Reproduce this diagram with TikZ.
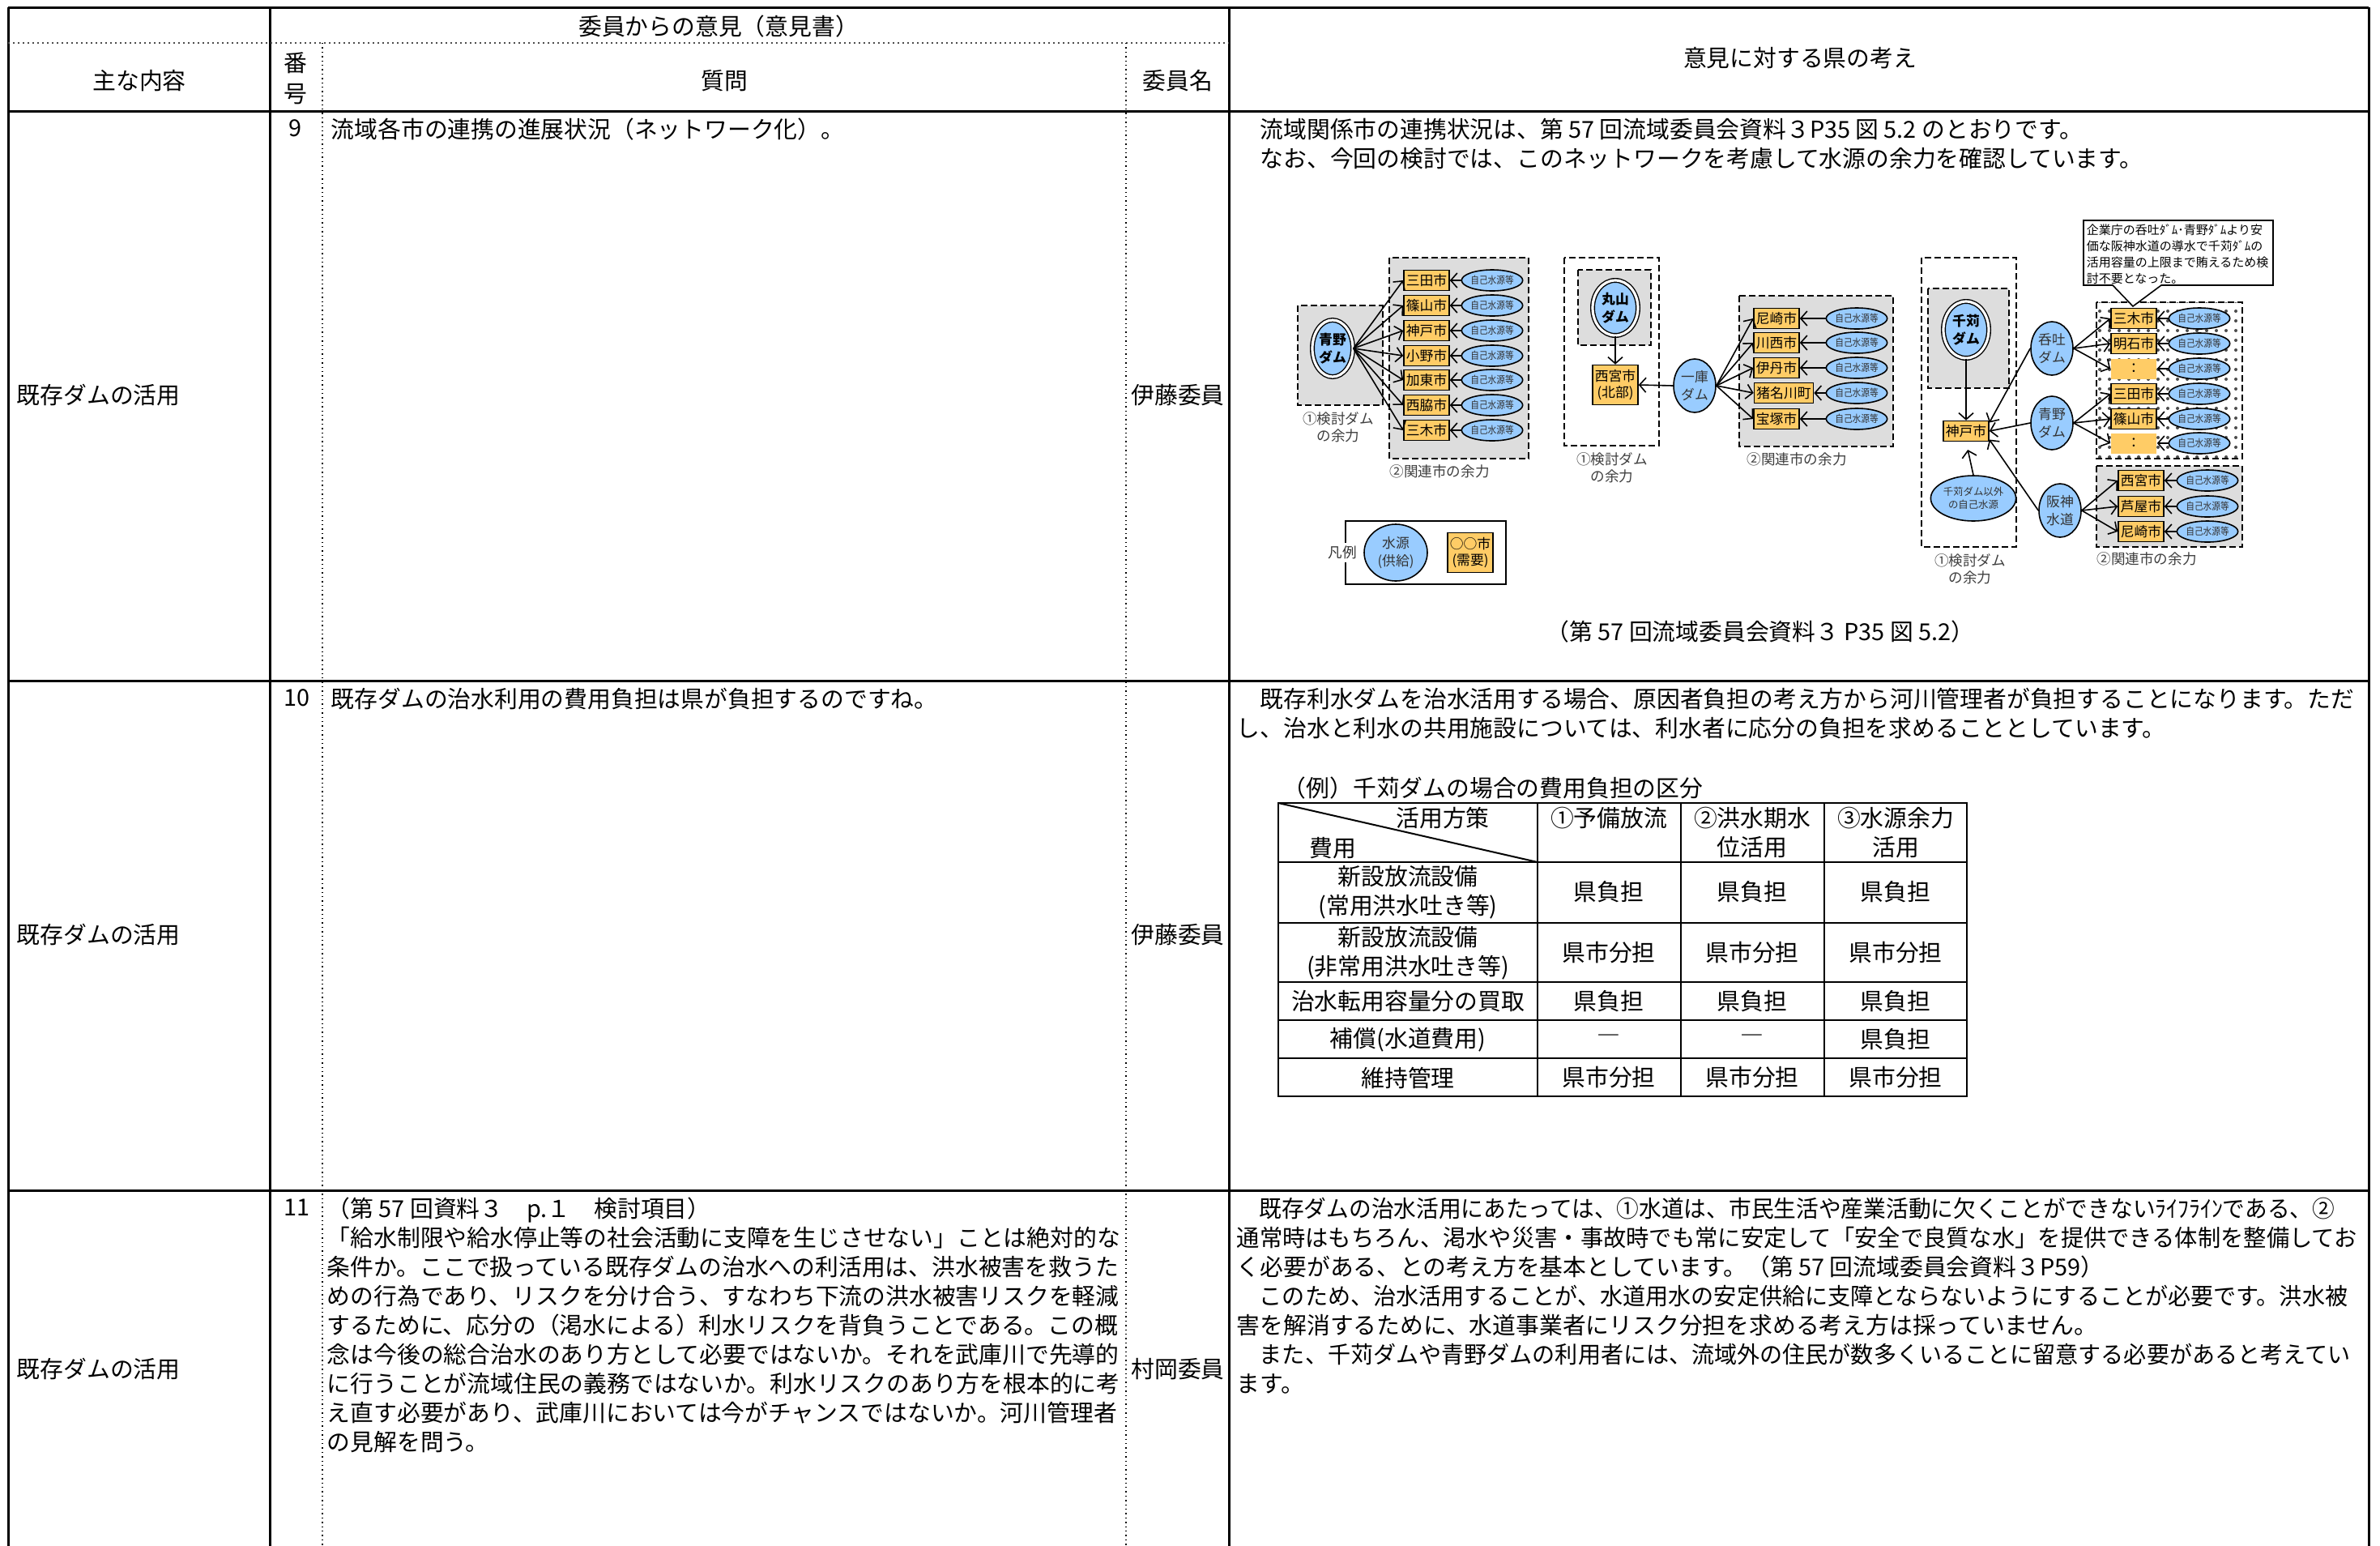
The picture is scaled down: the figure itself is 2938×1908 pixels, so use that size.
\documentclass[tikz,border=0pt]{standalone}
\usepackage{fontspec}
\setmainfont{Noto Sans CJK JP}
\usepackage{xcolor}
\usepackage{tikz}
\usetikzlibrary{shapes.geometric,arrows.meta,patterns}

\definecolor{citycol}{RGB}{255,204,102}
\definecolor{srccol}{RGB}{153,204,255}
\definecolor{boxgray}{RGB}{221,221,221}

\newcommand{\selfsrc}{\scalebox{0.86}[1]{自己水源等}}

\tikzset{
  rule/.style={line width=0.75pt},
  subrule/.style={line width=0.5pt, densely dotted, black!70},
  dotrule/.style={line width=0.35pt, densely dotted},
  tab/.style={line width=0.5pt},
  body/.style={inner sep=0pt, anchor=north west, align=left, font=\fontsize{7.2}{9}\selectfont},
  cell/.style={inner sep=0pt, align=center, font=\fontsize{7.2}{9}\selectfont},
  item/.style={inner sep=0pt, anchor=west, font=\fontsize{7.2}{9}\selectfont},
  city/.style={draw, fill=citycol, line width=0.4pt, minimum width=14pt, minimum height=6.25pt, inner sep=0pt, font=\fontsize{4.2}{5.2}\selectfont},
  blankcity/.style={fill=citycol, minimum width=14pt, minimum height=6.25pt, inner sep=0pt, font=\fontsize{4.2}{5.2}\selectfont},
  src/.style={ellipse, draw, fill=srccol, line width=0.4pt, minimum width=18.5pt, minimum height=6.5pt, inner sep=0pt, text=black!80, font=\fontsize{3.1}{3.5}\selectfont},
  supply/.style={ellipse, draw, fill=srccol, line width=0.4pt, minimum width=13pt, minimum height=16.5pt, inner sep=0pt, align=center, text=black!80, font=\fontsize{4.2}{5.6}\selectfont},
  dam/.style={ellipse, draw, fill=srccol, double, double distance=0.8pt, line width=0.35pt, minimum width=13pt, minimum height=17.5pt, inner sep=0pt, align=center, font=\bfseries\fontsize{4.2}{5.4}\selectfont},
  grp/.style={draw, fill=boxgray, line width=0.35pt, dash pattern=on 2pt off 1pt},
  flow/.style={-{Straight Barb[length=2pt,width=4.5pt]}, line width=0.4pt},
  lbl/.style={inner sep=0pt, align=center, text=black!75, font=\fontsize{4.4}{5.3}\selectfont},
  note/.style={inner sep=0pt, anchor=north west, align=left, font=\fontsize{3.75}{5}\selectfont}
}

\begin{document}
\begin{tikzpicture}[x=0.25pt,y=-0.25pt]
\path[use as bounding box, fill=white] (0,0) rectangle (2938,1908);

% table frame
\draw[rule] (10,9) -- (2924,9);
\draw[rule] (10,137) -- (2924,137);
\draw[rule] (10,840) -- (2924,840);
\draw[rule] (10,1469) -- (2924,1469);
\draw[rule] (10,9) -- (10,1908);
\draw[rule] (333,9) -- (333,1908);
\draw[rule] (1517,9) -- (1517,1908);
\draw[rule] (2924,9) -- (2924,1908);
\draw[subrule] (10,53) -- (1517,53);
\draw[dotrule] (398,53) -- (398,1908);
\draw[dotrule] (1390,53) -- (1390,1908);

% header
\node[cell] (hOpinion) at (887,33) {委員からの意見（意見書）};
\node[cell] (hTopic) at (172,100) {主な内容};
\node[cell] (hNo1) at (365,78) {番};
\node[cell] (hNo2) at (365,116) {号};
\node[cell] (hQuestion) at (894,100) {質問};
\node[cell] (hMember) at (1454,100) {委員名};
\node[cell] (hAnswer) at (2222,72) {意見に対する県の考え};

% row 9
\node[cell] (n9) at (364,158) {9};
\node[body] (q9) at (408,145) {流域各市の連携の進展状況（ネットワーク化）。};
\node[item] (k9) at (20,488) {既存ダムの活用};
\node[cell] (m9) at (1454,488) {伊藤委員};
\node[body] (a9) at (1526,145) {　流域関係市の連携状況は、第 57 回流域委員会資料３P35 図 5.2 のとおりです。\\　なお、今回の検討では、このネットワークを考慮して水源の余力を確認しています。};

% network: aono dam
\path[grp] (1602,377) rectangle (1707,500);
\path[grp] (1715,318) rectangle (1887,566);
\node[dam, minimum width=12.5pt] (aonoA) at (1645,430) {青野\\ダム};
\node[city] (sandaA) at (1761,346) {三田市};
\node[city] (sasayamaA) at (1761,377) {篠山市};
\node[city] (kobeA) at (1761,408) {神戸市};
\node[city] (onoA) at (1761,439) {小野市};
\node[city] (katoA) at (1761,469) {加東市};
\node[city] (nishiwakiA) at (1761,500) {西脇市};
\node[city] (mikiA) at (1761,531) {三木市};
\node[src] (sA1) at (1842,346) {\selfsrc};
\node[src] (sA2) at (1842,377) {\selfsrc};
\node[src] (sA3) at (1842,408) {\selfsrc};
\node[src] (sA4) at (1842,439) {\selfsrc};
\node[src] (sA5) at (1842,469) {\selfsrc};
\node[src] (sA6) at (1842,500) {\selfsrc};
\node[src] (sA7) at (1842,531) {\selfsrc};
\draw[flow] (aonoA.east) -- (sandaA.west);
\draw[flow] (aonoA.east) -- (sasayamaA.west);
\draw[flow] (aonoA.east) -- (kobeA.west);
\draw[flow] (aonoA.east) -- (onoA.west);
\draw[flow] (aonoA.east) -- (katoA.west);
\draw[flow] (aonoA.east) -- (nishiwakiA.west);
\draw[flow] (aonoA.east) -- (mikiA.west);
\draw[flow] (sA1.west) -- (sandaA.east);
\draw[flow] (sA2.west) -- (sasayamaA.east);
\draw[flow] (sA3.west) -- (kobeA.east);
\draw[flow] (sA4.west) -- (onoA.east);
\draw[flow] (sA5.west) -- (katoA.east);
\draw[flow] (sA6.west) -- (nishiwakiA.east);
\draw[flow] (sA7.west) -- (mikiA.east);
\node[lbl] (capA1) at (1652,527) {①検討ダム\\の余力};
\node[lbl] (capA2) at (1777,582) {②関連市の余力};

% network: maruyama / hitokura
\path[grp, fill=white] (1931,318) rectangle (2048,550);
\path[grp] (1948,333) rectangle (2038,426);
\node[dam, minimum width=14pt, minimum height=17pt] (maruyama) at (1994,380) {丸山\\ダム};
\node[city, minimum height=12.25pt, align=center] (nishinomiyaB) at (1994,475) {西宮市\\(北部)};
\node[supply] (hitokura) at (2092,476) {一庫\\ダム};
\path[grp] (2147,365) rectangle (2337,551);
\node[city] (amagasakiB) at (2193,393) {尼崎市};
\node[city] (kawanishi) at (2193,423) {川西市};
\node[city] (itami) at (2193,454) {伊丹市};
\node[city, minimum width=18.25pt] (inagawa) at (2202,485) {猪名川町};
\node[city] (takarazuka) at (2193,517) {宝塚市};
\node[src] (sB1) at (2292,393) {\selfsrc};
\node[src] (sB2) at (2292,423) {\selfsrc};
\node[src] (sB3) at (2292,454) {\selfsrc};
\node[src] (sB4) at (2292,485) {\selfsrc};
\node[src] (sB5) at (2292,517) {\selfsrc};
\draw[flow] (maruyama.south) -- (nishinomiyaB.north);
\draw[flow] (hitokura.west) -- (nishinomiyaB.east);
\draw[flow] (hitokura.east) -- (amagasakiB.west);
\draw[flow] (hitokura.east) -- (kawanishi.west);
\draw[flow] (hitokura.east) -- (itami.west);
\draw[flow] (hitokura.east) -- (inagawa.west);
\draw[flow] (hitokura.east) -- (takarazuka.west);
\draw[flow] (sB1.west) -- (amagasakiB.east);
\draw[flow] (sB2.west) -- (kawanishi.east);
\draw[flow] (sB3.west) -- (itami.east);
\draw[flow] (sB4.west) -- (inagawa.east);
\draw[flow] (sB5.west) -- (takarazuka.east);
\node[lbl] (capB1) at (1990,577) {①検討ダム\\の余力};
\node[lbl] (capB2) at (2218,567) {②関連市の余力};

% network: sengari
\path[grp, fill=white] (2372,318) rectangle (2489,675);
\path[grp] (2380,356) rectangle (2480,479);
\node[dam, minimum width=14pt] (sengari) at (2427,407) {千苅\\ダム};
\node[city] (kobeC) at (2427,532) {神戸市};
\node[supply, minimum width=22pt, minimum height=14pt, font=\fontsize{3.1}{4.1}\selectfont] (otherC) at (2436,615) {千苅ダム以外\\の自己水源};
\node[supply] (donge) at (2533,430) {呑吐\\ダム};
\node[supply] (aonoC) at (2533,522) {青野\\ダム};
\node[supply] (hanshin) at (2543,630) {阪神\\水道};
\path[grp, fill=none, pattern=dots, pattern color=black!70] (2588,373) rectangle (2768,566);
\node[city] (mikiC) at (2634,393) {三木市};
\node[city] (akashi) at (2634,424) {明石市};
\node[blankcity] (blankC1) at (2634,455) {：};
\node[city] (sandaC) at (2634,486) {三田市};
\node[city] (sasayamaC) at (2634,517) {篠山市};
\node[blankcity] (blankC2) at (2634,547) {：};
\node[src] (sC1) at (2715,393) {\selfsrc};
\node[src] (sC2) at (2715,424) {\selfsrc};
\node[src] (sC3) at (2715,455) {\selfsrc};
\node[src] (sC4) at (2715,486) {\selfsrc};
\node[src] (sC5) at (2715,517) {\selfsrc};
\node[src] (sC6) at (2715,547) {\selfsrc};
\path[grp] (2588,575) rectangle (2768,675);
\node[city] (nishinomiyaC) at (2643,593) {西宮市};
\node[city] (ashiya) at (2643,625) {芦屋市};
\node[city] (amagasakiC) at (2643,656) {尼崎市};
\node[src] (sC7) at (2725,593) {\selfsrc};
\node[src] (sC8) at (2725,625) {\selfsrc};
\node[src] (sC9) at (2725,656) {\selfsrc};
\draw[flow] (sengari.south) -- (kobeC.north);
\draw[flow, shorten >=2.5pt] (otherC.north) -- (kobeC.south);
\draw[flow] (donge.west) -- (kobeC.20);
\draw[flow] (aonoC.west) -- (kobeC.east);
\draw[flow] (hanshin.west) -- (kobeC.-20);
\draw[flow] (donge.east) -- (mikiC.west);
\draw[flow] (donge.east) -- (akashi.west);
\draw[flow] (donge.east) -- (blankC1.west);
\draw[flow] (aonoC.east) -- (sandaC.west);
\draw[flow] (aonoC.east) -- (sasayamaC.west);
\draw[flow] (aonoC.east) -- (blankC2.west);
\draw[flow] (hanshin.east) -- (nishinomiyaC.west);
\draw[flow] (hanshin.east) -- (ashiya.west);
\draw[flow] (hanshin.east) -- (amagasakiC.west);
\draw[flow] (sC1.west) -- (mikiC.east);
\draw[flow] (sC2.west) -- (akashi.east);
\draw[flow] (sC3.west) -- (blankC1.east);
\draw[flow] (sC4.west) -- (sandaC.east);
\draw[flow] (sC5.west) -- (sasayamaC.east);
\draw[flow] (sC6.west) -- (blankC2.east);
\draw[flow] (sC7.west) -- (nishinomiyaC.east);
\draw[flow] (sC8.west) -- (ashiya.east);
\draw[flow] (sC9.west) -- (amagasakiC.east);
\node[lbl] (capC1) at (2432,702) {①検討ダム\\の余力};
\node[lbl] (capC2) at (2650,690) {②関連市の余力};

% callout
\path[draw, fill=white, line width=0.4pt] (2572,272) -- (2806,272) -- (2806,352) -- (2668,352) -- (2633,378) -- (2608,352) -- (2572,352) -- cycle;
\node[note] (noteC) at (2575,276) {企業庁の呑吐ﾀﾞﾑ･青野ﾀﾞﾑより安\\価な阪神水道の導水で千苅ﾀﾞﾑの\\活用容量の上限まで賄えるため検\\討不要となった。};

% legend
\draw[line width=0.4pt] (1661,643) rectangle (1859,721);
\node[lbl, fill=white, inner sep=1pt, text=black!80] (legend) at (1657,682) {凡例};
\node[supply, minimum width=19.5pt, minimum height=17.5pt] (legSrc) at (1723,682) {水源\\(供給)};
\node[city, minimum height=12.25pt, align=center] (legCity) at (1815,682) {○○市\\(需要)};

\node[cell] (cap9) at (2173,780) {（第 57 回流域委員会資料３ P35 図 5.2）};

% row 10
\node[cell] (n10) at (366,861) {10};
\node[body] (q10) at (408,848) {既存ダムの治水利用の費用負担は県が負担するのですね。};
\node[item] (k10) at (20,1154) {既存ダムの活用};
\node[cell] (m10) at (1454,1154) {伊藤委員};
\node[body] (a10) at (1526,848) {　既存利水ダムを治水活用する場合、原因者負担の考え方から河川管理者が負担することになります。ただ\\し、治水と利水の共用施設については、利水者に応分の負担を求めることとしています。};
\node[body] (tTitle) at (1583,958) {（例）千苅ダムの場合の費用負担の区分};

% cost table
\draw[tab] (1578,991) rectangle (2428,1353);
\draw[tab] (1898,991) -- (1898,1353);
\draw[tab] (2075,991) -- (2075,1353);
\draw[tab] (2252,991) -- (2252,1353);
\draw[tab] (1578,1064) -- (2428,1064);
\draw[tab] (1578,1139) -- (2428,1139);
\draw[tab] (1578,1212) -- (2428,1212);
\draw[tab] (1578,1259) -- (2428,1259);
\draw[tab] (1578,1306) -- (2428,1306);
\draw[tab] (1578,991) -- (1898,1064);
\node[cell] (t01) at (1781,1010) {活用方策};
\node[cell] (t02) at (1645,1047) {費用};
\node[cell] (t1) at (1986,1010) {①予備放流};
\node[cell] (t2) at (2163,1028) {②洪水期水\\位活用};
\node[cell] (t3) at (2340,1028) {③水源余力\\活用};
\node[cell] (r1) at (1738,1101) {新設放流設備\\(常用洪水吐き等)};
\node[cell] (r11) at (1986,1101) {県負担};
\node[cell] (r12) at (2163,1101) {県負担};
\node[cell] (r13) at (2340,1101) {県負担};
\node[cell] (r2) at (1738,1176) {新設放流設備\\(非常用洪水吐き等)};
\node[cell] (r21) at (1986,1176) {県市分担};
\node[cell] (r22) at (2163,1176) {県市分担};
\node[cell] (r23) at (2340,1176) {県市分担};
\node[cell] (r3) at (1738,1236) {治水転用容量分の買取};
\node[cell] (r31) at (1986,1236) {県負担};
\node[cell] (r32) at (2163,1236) {県負担};
\node[cell] (r33) at (2340,1236) {県負担};
\node[cell] (r4) at (1738,1283) {補償(水道費用)};
\node[cell] (r41) at (1986,1283) {―};
\node[cell] (r42) at (2163,1283) {―};
\node[cell] (r43) at (2340,1283) {県負担};
\node[cell] (r5) at (1738,1330) {維持管理};
\node[cell] (r51) at (1986,1330) {県市分担};
\node[cell] (r52) at (2163,1330) {県市分担};
\node[cell] (r53) at (2340,1330) {県市分担};

% row 11
\node[cell] (n11) at (366,1490) {11};
\node[body] (q11) at (403,1477) {（第 57 回資料３　p.１　検討項目）\\「給水制限や給水停止等の社会活動に支障を生じさせない」ことは絶対的な\\条件か。ここで扱っている既存ダムの治水への利活用は、洪水被害を救うた\\めの行為であり、リスクを分け合う、すなわち下流の洪水被害リスクを軽減\\するために、応分の（渇水による）利水リスクを背負うことである。この概\\念は今後の総合治水のあり方として必要ではないか。それを武庫川で先導的\\に行うことが流域住民の義務ではないか。利水リスクのあり方を根本的に考\\え直す必要があり、武庫川においては今がチャンスではないか。河川管理者\\の見解を問う。};
\node[item] (k11) at (20,1690) {既存ダムの活用};
\node[cell] (m11) at (1454,1690) {村岡委員};
\node[body] (a11) at (1526,1477) {\scalebox{0.962}[1]{　既存ダムの治水活用にあたっては、①水道は、市民生活や産業活動に欠くことができないﾗｲﾌﾗｲﾝである、②}\\\scalebox{0.982}[1]{通常時はもちろん、渇水や災害・事故時でも常に安定して「安全で良質な水」を提供できる体制を整備してお}\\く必要がある、との考え方を基本としています。（第 57 回流域委員会資料３P59）\\\scalebox{0.975}[1]{　このため、治水活用することが、水道用水の安定供給に支障とならないようにすることが必要です。洪水被}\\害を解消するために、水道事業者にリスク分担を求める考え方は採っていません。\\\scalebox{0.975}[1]{　また、千苅ダムや青野ダムの利用者には、流域外の住民が数多くいることに留意する必要があると考えてい}\\ます。};
\end{tikzpicture}
\end{document}
